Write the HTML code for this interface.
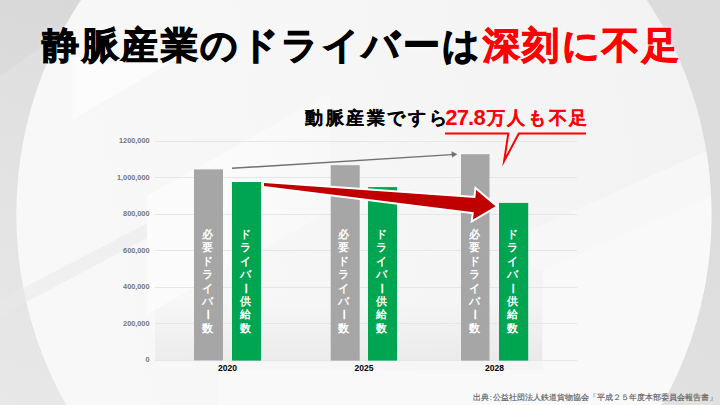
<!DOCTYPE html>
<html><head><meta charset="utf-8">
<style>
*{margin:0;padding:0;box-sizing:border-box}
html,body{width:720px;height:405px;overflow:hidden}
body{position:relative;font-family:"Liberation Sans",sans-serif;background:#e0e0e0}
#bg{position:absolute;left:0;top:0}
.abs{position:absolute;white-space:nowrap}
#title{left:42px;top:20px;font-size:37px;font-weight:bold;line-height:52px;color:#000;letter-spacing:2.5px;-webkit-text-stroke:1.1px #000;text-shadow:0 0 2px #fff,0 0 4px #fff}
#title .r{color:#ff0000;-webkit-text-stroke:1.1px #ff0000}
#sub{left:305px;top:106px;font-size:17.5px;font-weight:bold;line-height:24px;color:#000;letter-spacing:2.6px;-webkit-text-stroke:0.15px #000}
#sub .r{color:#ff0000;-webkit-text-stroke:0.15px #ff0000}
#sub .d{font-size:22px;letter-spacing:-0.8px;-webkit-text-stroke:0;margin-left:-4px;margin-right:2px;vertical-align:-1px}
.yl{position:absolute;right:570.5px;font-size:7.3px;color:#777;font-weight:bold;line-height:10px;text-align:right}
.xl{position:absolute;font-size:8.5px;font-weight:bold;color:#000;line-height:10px;width:40px;text-align:center}
.vt{position:absolute;width:29px;margin-left:-1.5px;color:#fff;font-weight:bold;font-size:10.6px;line-height:13.4px;text-align:center}
.vt .c{display:block;height:13.4px}
.vt .rot{display:inline-block;transform:rotate(90deg)}
#src{left:472.5px;top:392px;font-size:7.85px;color:#5e5e5e;line-height:12px;-webkit-text-stroke:0.15px #5e5e5e}
#src .co{padding:0 1.3px}
</style></head><body>
<svg id="bg" width="720" height="405" viewBox="0 0 720 405">
  <defs>
    <linearGradient id="g0" x1="0" y1="1" x2="0.6" y2="0.2">
      <stop offset="0" stop-color="#e8e8e8"/>
      <stop offset="1" stop-color="#dcdcdc"/>
    </linearGradient>
  </defs>
  <rect width="720" height="405" fill="url(#g0)"/>
  <polygon points="0,76 110,0 0,0" fill="#000" fill-opacity="0.018"/>
  <linearGradient id="ge" x1="0" y1="0.5" x2="1" y2="0.3"><stop offset="0" stop-color="#f8f8f8"/><stop offset="0.5" stop-color="#f6f6f6"/><stop offset="1" stop-color="#f2f2f2"/></linearGradient>
  <ellipse cx="363.9" cy="214.4" rx="347.6" ry="369" fill="url(#ge)"/>
  <defs>
    <clipPath id="ec"><ellipse cx="363.9" cy="214.4" rx="347.6" ry="369"/></clipPath>
    <linearGradient id="gb" x1="0" y1="0" x2="1" y2="0">
      <stop offset="0" stop-color="#fcfcfc"/>
      <stop offset="1" stop-color="#f8f8f8"/>
    </linearGradient>
    <linearGradient id="gp" x1="0" y1="0" x2="0" y2="1">
      <stop offset="0" stop-color="#000" stop-opacity="0"/>
      <stop offset="1" stop-color="#000" stop-opacity="0.045"/>
    </linearGradient>
  </defs>
  <polygon points="0,300 147,223.5 147,238 0,316" fill="#e9e9e9" fill-opacity="0.55"/>
  <g clip-path="url(#ec)">
    <polygon points="72.5,57 72.5,119.6 180,57" fill="#fcfcfc"/>
    <polygon points="147,196 147,314 330,211 330,93" fill="url(#gb)"/>
    <polygon points="531,230 720,145 720,192 543,270 531,270" fill="#f7f7f7"/>
    <polygon points="219,370 543,370 543,270 720,192 720,405 219,405" fill="#f9f9f9"/>
  </g>
  <rect x="155" y="300" width="387" height="60" fill="url(#gp)"/>
  <!-- gridlines -->
  <g stroke="#e6e6e6" stroke-width="1">
    <line x1="155" y1="141.5" x2="577" y2="141.5"/>
    <line x1="155" y1="177.5" x2="577" y2="177.5"/>
    <line x1="155" y1="214.5" x2="577" y2="214.5"/>
    <line x1="155" y1="250.5" x2="577" y2="250.5"/>
    <line x1="155" y1="287.5" x2="577" y2="287.5"/>
    <line x1="155" y1="323.5" x2="577" y2="323.5"/>
    <line x1="155" y1="360.5" x2="577" y2="360.5"/>
  </g>
  <!-- bars -->
  <g fill="#a6a6a6">
    <rect x="194" y="169.4" width="29" height="191"/>
    <rect x="330.7" y="165.2" width="29" height="195.4"/>
    <rect x="461" y="154.2" width="28.5" height="206.4"/>
  </g>
  <g fill="#00a551">
    <rect x="232" y="182" width="29" height="178.6"/>
    <rect x="368" y="187.1" width="29" height="173.5"/>
    <rect x="499" y="202.9" width="29.2" height="157.7"/>
  </g>
  <!-- gray arrow -->
  <line x1="232" y1="168.3" x2="452" y2="154.6" stroke="#707070" stroke-width="1.4"/>
  <polygon points="457.3,154.2 451.5,151.3 452,157.6" fill="#707070"/>
  <!-- red arrow -->
  <polygon points="264,182.9 475.3,198 476.2,190 495.6,206.3 473,219.6 473.8,212.2 264,186.1"
    fill="#fff" stroke="#fff" stroke-width="4" stroke-linejoin="miter"/>
  <polygon points="264,182.9 475.3,198 476.2,190 495.6,206.3 473,219.6 473.8,212.2 264,186.1" fill="#c00000"/>
  <!-- callout -->
  <polyline points="445,133.6 508.3,133.6 504.15,161 518.8,133.6 586,133.6" fill="none" stroke="#ff0000" stroke-width="2" stroke-miterlimit="20"/>
</svg>

<div id="title" class="abs">静脈産業のドライバーは<span class="r">深刻に不足</span></div>
<div id="sub" class="abs">動脈産業ですら<span class="r"><span class="d">27.8</span>万人も不足</span></div>

<div class="yl" style="top:136px">1200,000</div>
<div class="yl" style="top:172.5px">1,000,000</div>
<div class="yl" style="top:209px">800,000</div>
<div class="yl" style="top:245.5px">600,000</div>
<div class="yl" style="top:282px">400,000</div>
<div class="yl" style="top:318.5px">200,000</div>
<div class="yl" style="top:355.3px">0</div>

<div class="xl" style="left:207.5px;top:363px">2020</div>
<div class="xl" style="left:344px;top:363px">2025</div>
<div class="xl" style="left:474.5px;top:363px">2028</div>

<div class="vt" style="left:194px;top:228px"><span class="c">必</span><span class="c">要</span><span class="c">ド</span><span class="c">ラ</span><span class="c">イ</span><span class="c">バ</span><span class="c"><span class="rot">ー</span></span><span class="c">数</span></div>
<div class="vt" style="left:232px;top:228px"><span class="c">ド</span><span class="c">ラ</span><span class="c">イ</span><span class="c">バ</span><span class="c"><span class="rot">ー</span></span><span class="c">供</span><span class="c">給</span><span class="c">数</span></div>
<div class="vt" style="left:330.7px;top:228px"><span class="c">必</span><span class="c">要</span><span class="c">ド</span><span class="c">ラ</span><span class="c">イ</span><span class="c">バ</span><span class="c"><span class="rot">ー</span></span><span class="c">数</span></div>
<div class="vt" style="left:368px;top:228px"><span class="c">ド</span><span class="c">ラ</span><span class="c">イ</span><span class="c">バ</span><span class="c"><span class="rot">ー</span></span><span class="c">供</span><span class="c">給</span><span class="c">数</span></div>
<div class="vt" style="left:461px;top:228px"><span class="c">必</span><span class="c">要</span><span class="c">ド</span><span class="c">ラ</span><span class="c">イ</span><span class="c">バ</span><span class="c"><span class="rot">ー</span></span><span class="c">数</span></div>
<div class="vt" style="left:499px;top:228px"><span class="c">ド</span><span class="c">ラ</span><span class="c">イ</span><span class="c">バ</span><span class="c"><span class="rot">ー</span></span><span class="c">供</span><span class="c">給</span><span class="c">数</span></div>

<div id="src" class="abs">出典<span class="co">:</span>公益社団法人鉄道貨物協会「平成２５年度本部委員会報告書」</div>
</body></html>
